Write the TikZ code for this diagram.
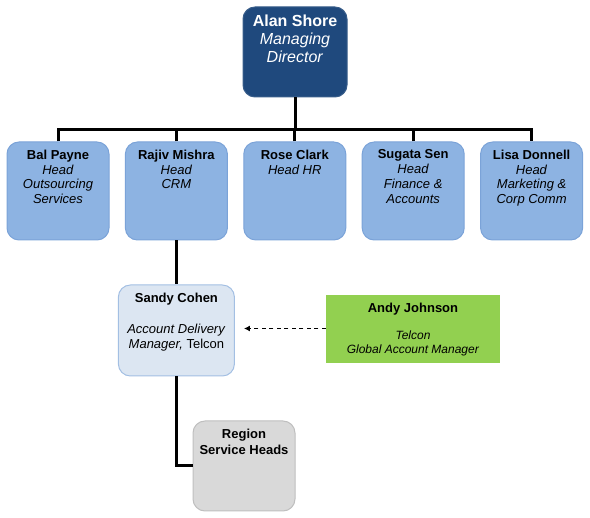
\documentclass[tikz,border=0pt]{standalone}
\usepackage{fontspec}
\setmainfont{Liberation Sans}
\usetikzlibrary{arrows.meta}
\definecolor{navyfill}{HTML}{1F497D}
\definecolor{navyline}{HTML}{385D8A}
\definecolor{rowfill}{HTML}{8DB3E2}
\definecolor{rowline}{HTML}{7BA3D8}
\definecolor{lightfill}{HTML}{DCE6F2}
\definecolor{lightline}{HTML}{A3BFE3}
\definecolor{greenfill}{HTML}{92D050}
\definecolor{grayfill}{HTML}{D9D9D9}
\definecolor{grayline}{HTML}{BFBFBF}
\begin{document}
\begin{tikzpicture}[x=1pt,y=-1pt,
  box/.style={rounded corners=12pt, inner sep=0pt, line width=1pt},
  topbox/.style={box, fill=navyfill, draw=navyline, minimum width=104pt, minimum height=90pt},
  rowbox/.style={box, fill=rowfill, draw=rowline, minimum width=102pt, minimum height=98pt},
  sandybox/.style={box, fill=lightfill, draw=lightline, minimum width=116pt, minimum height=91pt},
  greenbox/.style={inner sep=0pt, fill=greenfill, minimum width=174pt, minimum height=68pt},
  graybox/.style={box, fill=grayfill, draw=grayline, minimum width=102pt, minimum height=90pt},
  txt/.style={anchor=north, align=center, inner sep=0pt, font=\fontsize{13}{14.7}\selectfont},
  toptxt/.style={txt, text=white, font=\fontsize{16}{18}\selectfont},
  conn/.style={line width=3pt},
  dasharrow/.style={line width=1.3pt, dash pattern=on 4pt off 3.5pt, -{Latex[length=6pt,width=6pt]}}
]
\useasboundingbox (0,0) rectangle (590,518);

% top
\node[topbox] (alan) at (295,52) {};
\node[toptxt] (alant) at (295,15) {\textbf{Alan Shore}\\\textit{Managing}\\\textit{Director}};

% row
\node[rowbox] (bal) at (58,191) {};
\node[rowbox] (rajiv) at (176.4,191) {};
\node[rowbox] (rose) at (294.8,191) {};
\node[rowbox] (sugata) at (413.2,191) {};
\node[rowbox] (lisa) at (531.6,191) {};
\node[txt] (balt) at (58,149.7) {\textbf{Bal Payne}\\\textit{Head}\\\textit{Outsourcing}\\\textit{Services}};
\node[txt] (rajivt) at (176.4,149.7) {\textbf{Rajiv Mishra}\\\textit{Head}\\\textit{CRM}};
\node[txt] (roset) at (294.8,149.7) {\textbf{Rose Clark}\\\textit{Head HR}};
\node[txt] (sugatat) at (413.2,149.7) {\textbf{Sugata Sen}\\\textit{Head}\\\textit{Finance \&}\\\textit{Accounts}};
\node[txt] (lisat) at (531.6,149.7) {\textbf{Lisa Donnell}\\\textit{Head}\\\textit{Marketing \&}\\\textit{Corp Comm}};

% lower
\node[sandybox] (sandy) at (176.4,330.5) {};
\node[txt] (sandyt) at (176.4,292.4) {\textbf{Sandy Cohen}\\[16.9pt]\textit{Account Delivery}\\\textit{Manager,} Telcon};
\node[greenbox] (andy) at (413,329.5) {};
\node[txt, font=\fontsize{12}{13.4}\selectfont] (andyt) at (413,302.7) {{\fontsize{13}{13.4}\selectfont\bfseries Andy Johnson}\\[13.9pt]\textit{Telcon}\\\textit{Global Account Manager}};
\node[graybox] (region) at (244,466) {};
\node[txt, font=\fontsize{13}{16}\selectfont] (regiont) at (244,429) {\textbf{Region}\\\textbf{Service Heads}};

% connectors
\coordinate (bus) at (295,130);
\draw[conn] (alan.south) -- (bus);
\draw[conn] (bal.north) -- (bal.north |- bus) -- (lisa.north |- bus) -- (lisa.north);
\draw[conn] (rajiv.north) -- (rajiv.north |- bus);
\draw[conn] (rose.north) -- (rose.north |- bus);
\draw[conn] (sugata.north) -- (sugata.north |- bus);
\draw[conn] (rajiv.south) -- (sandy.north);
\draw[conn] (sandy.south) |- (region.west);
\coordinate (arrowstart) at ([yshift=1pt]andy.west);
\coordinate (arrowend) at ([xshift=9pt]sandy.east |- arrowstart);
\draw[dasharrow] (arrowstart) -- (arrowend);
\end{tikzpicture}
\end{document}
